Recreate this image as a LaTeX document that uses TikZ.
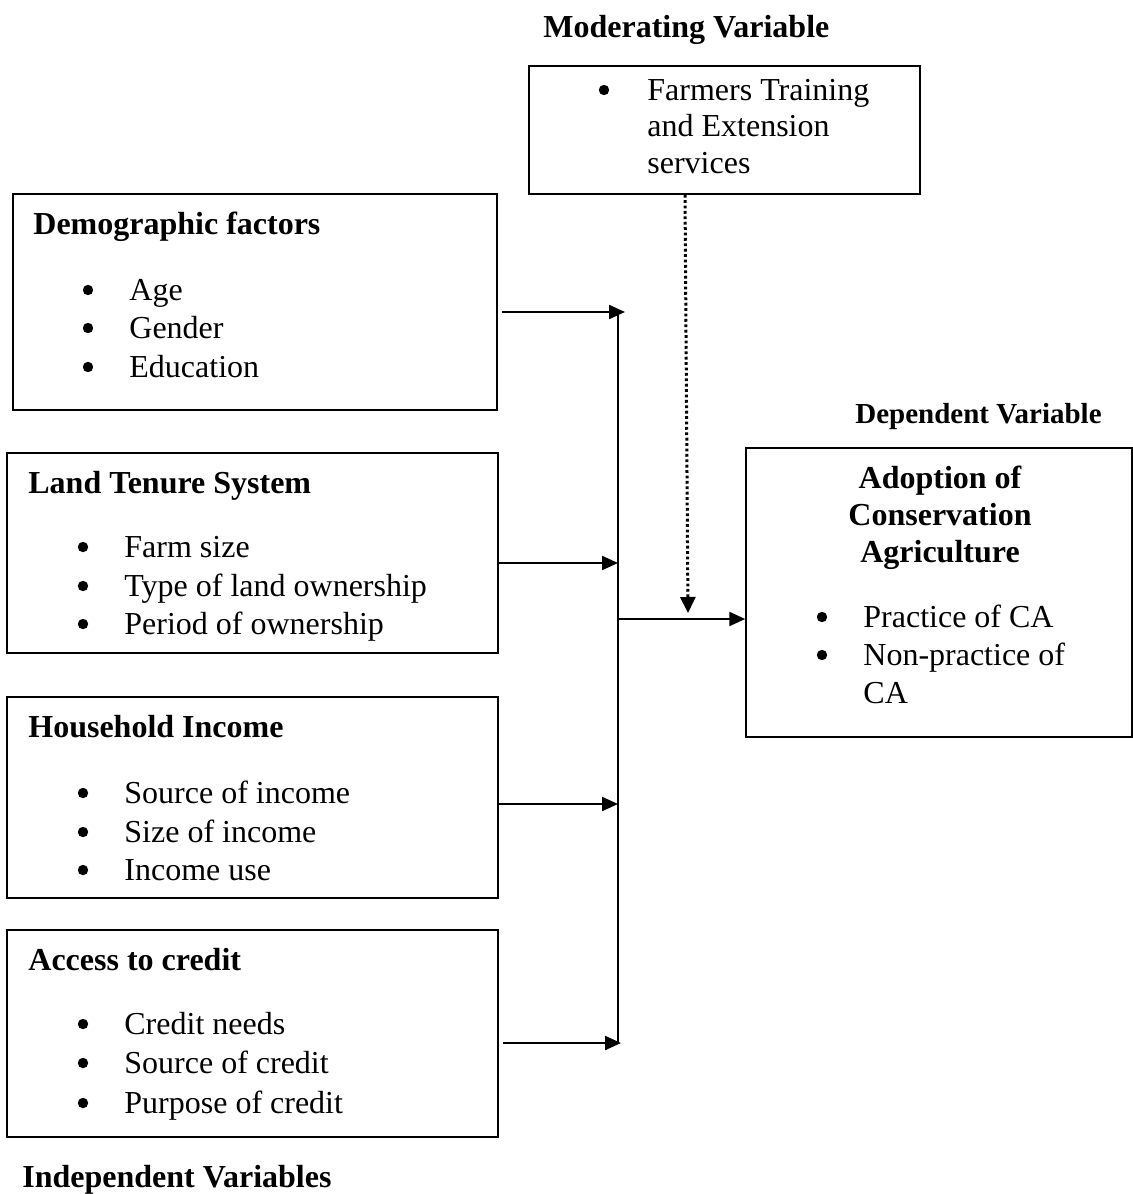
\documentclass[tikz,border=0pt]{standalone}
\usepackage{fontspec}
\setmainfont{Liberation Serif}
\usetikzlibrary{arrows.meta,fit}
\tikzset{
  box/.style={draw=black, line width=0.75pt, inner sep=0pt},
  txt/.style={anchor=base west, inner sep=0pt, font=\fontsize{16}{19}\selectfont},
  hd/.style={anchor=base west, inner sep=0pt, font=\bfseries\fontsize{16}{19}\selectfont},
  hdc/.style={anchor=base, inner sep=0pt, font=\bfseries\fontsize{16}{19}\selectfont},
  bul/.style={circle, fill=black, inner sep=0pt, minimum size=5.2pt, yshift=5pt},
  arr/.style={line width=1.1pt, -{Triangle[length=8pt,width=7pt]}},
  bus/.style={line width=1.1pt},
  dotarr/.style={line width=1.5pt, dash pattern=on 1.4pt off 1.3pt, -{Triangle[length=8pt,width=7.5pt]}}
}
\begin{document}
\begin{tikzpicture}[x=0.5pt,y=-0.5pt]
\useasboundingbox (0,0) rectangle (1133,1194);
% boxes
\node[box, fit={(529,66) (920,194)}] (mod) {};
\node[box, fit={(13,194) (497,410)}] (demo) {};
\node[box, fit={(7,453) (498,653)}] (land) {};
\node[box, fit={(7,697) (498,898)}] (inc) {};
\node[box, fit={(7,930) (498,1137)}] (cred) {};
\node[box, fit={(746,448) (1132,737)}] (dep) {};
% titles
\node[hd] (tmod) at (543,37) {Moderating Variable};
\node[anchor=base west, inner sep=0pt, font=\bfseries\fontsize{14.5}{18}\selectfont] (tdep) at (855,423) {Dependent Variable};
\node[hd] (tind) at (22,1187) {Independent Variables};
% moderating box content
\node[bul] (mb1) at (604,100) {};
\node[txt] (m1) at (647,100) {Farmers Training};
\node[txt] (m2) at (647,136) {and Extension};
\node[txt] (m3) at (647,173) {services};
% demographic
\node[hd] (dh) at (33,234) {Demographic factors};
\node[bul] (db1) at (88,300) {};
\node[bul] (db2) at (88,338) {};
\node[bul] (db3) at (88,377) {};
\node[txt] (d1) at (129,300) {Age};
\node[txt] (d2) at (129,338) {Gender};
\node[txt] (d3) at (129,377) {Education};
% land tenure
\node[hd] (lh) at (28,493) {Land Tenure System};
\node[bul] (lb1) at (83,557) {};
\node[bul] (lb2) at (83,596) {};
\node[bul] (lb3) at (83,634) {};
\node[txt] (l1) at (124,557) {Farm size};
\node[txt] (l2) at (124,596) {Type of land ownership};
\node[txt] (l3) at (124,634) {Period of ownership};
% household income
\node[hd] (ih) at (28,737) {Household Income};
\node[bul] (ib1) at (83,803) {};
\node[bul] (ib2) at (83,842) {};
\node[bul] (ib3) at (83,880) {};
\node[txt] (i1) at (124,803) {Source of income};
\node[txt] (i2) at (124,842) {Size of income};
\node[txt] (i3) at (124,880) {Income use};
% access to credit
\node[hd] (ch) at (28,970) {Access to credit};
\node[bul] (cb1) at (83,1034) {};
\node[bul] (cb2) at (83,1073) {};
\node[bul] (cb3) at (83,1113) {};
\node[txt] (c1) at (124,1034) {Credit needs};
\node[txt] (c2) at (124,1073) {Source of credit};
\node[txt] (c3) at (124,1113) {Purpose of credit};
% dependent box content
\node[hdc] (a1) at (940,488) {Adoption of};
\node[hdc] (a2) at (940,525) {Conservation};
\node[hdc] (a3) at (940,562) {Agriculture};
\node[bul] (ab1) at (822,627) {};
\node[bul] (ab2) at (822,665) {};
\node[txt] (p1) at (863,627) {Practice of CA};
\node[txt] (p2) at (863,665) {Non-practice of};
\node[txt] (p3) at (863,703) {CA};
% connectors
\coordinate (busT) at (618,312);
\coordinate (busL) at (618,563);
\coordinate (busM) at (618,619);
\coordinate (busI) at (618,804);
\coordinate (busB) at (618,1043);
\coordinate (dotEnd) at (688,613);
\draw[bus] (busT) -- (busB);
\draw[arr] ([xshift=2pt]demo.east |- busT) -- ([xshift=3.5pt]busT);
\draw[arr] (land.east |- busL) -- (busL);
\draw[arr] (inc.east |- busI) -- (busI);
\draw[arr] ([xshift=2pt]cred.east |- busB) -- ([xshift=1.5pt]busB);
\draw[arr] (busM) -- (dep.west |- busM);
\draw[dotarr] (mod.south -| 685,0) -- (dotEnd);
\end{tikzpicture}
\end{document}
